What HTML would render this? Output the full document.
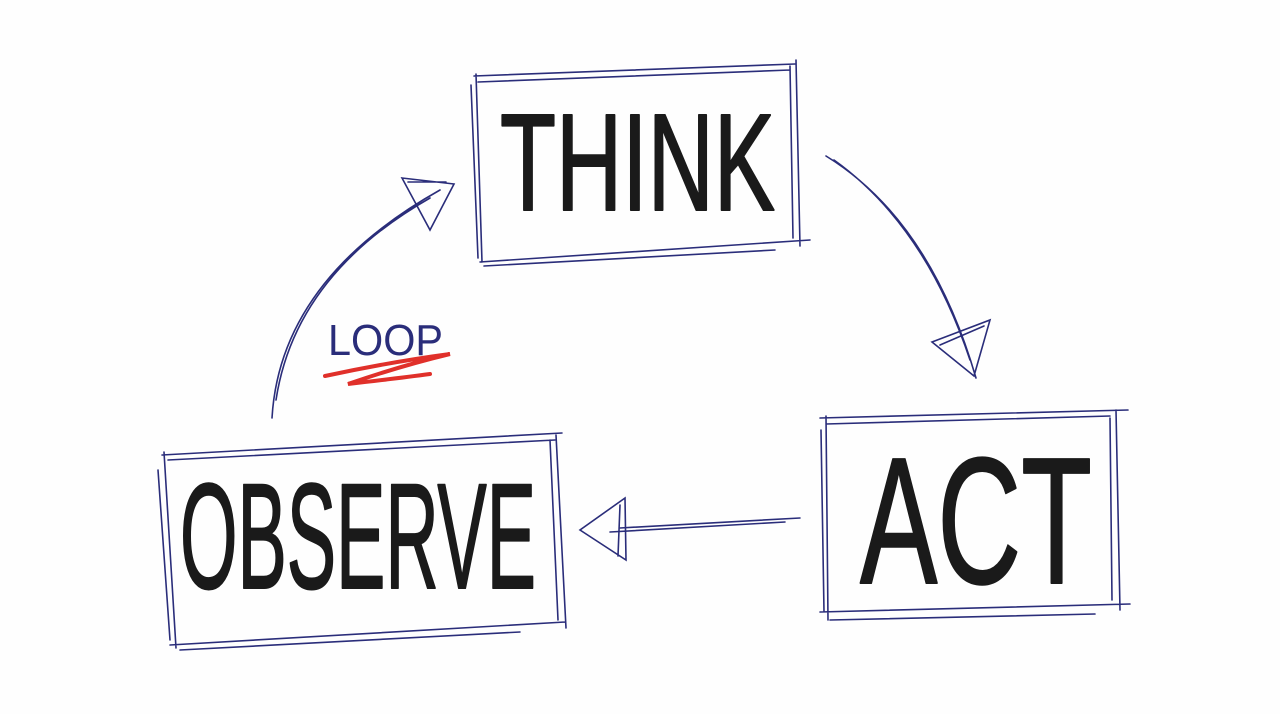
<!DOCTYPE html>
<html><head><meta charset="utf-8"><style>
html,body{margin:0;padding:0;background:#fff;width:1280px;height:714px;overflow:hidden}
svg{display:block}
</style></head><body>
<svg width="1280" height="714" viewBox="0 0 1280 714" xmlns="http://www.w3.org/2000/svg">
<rect width="1280" height="714" fill="#fefefe"/>
<g fill="none" stroke="#2a2d7a" stroke-width="1.6" stroke-linecap="round">
<path d="M474 76 L795 64 M478 82 L790 70 M476 74 L482 262 M471 85 L478 258 M480 262 L810 240 M484 266 L775 250 M796 60 L800 246 M790 66 L793 238"/>
<path d="M820 418 L1128 410 M826 424 L1110 416 M826 416 L828 620 M821 430 L824 612 M820 612 L1130 604 M830 620 L1095 614 M1116 410 L1120 610 M1110 418 L1112 600"/>
<path d="M162 455 L562 433 M168 460 L555 440 M164 452 L176 648 M158 470 L170 640 M170 645 L565 622 M180 650 L520 632 M556 435 L566 628 M550 440 L558 620"/>
<path d="M826 156 Q930 220 976 378 M834 160 Q925 225 970 360"/>
<path d="M932 342 L990 320 L974 376 Z M940 345 L984 326"/>
<path d="M800 518 L620 528 M785 522 L610 532"/>
<path d="M625 498 L580 530 L626 560 Z M620 505 L618 556"/>
<path d="M272 418 Q280 280 440 190 M276 400 Q295 275 430 198"/>
<path d="M402 178 L454 184 L430 230 Z M408 182 L446 182"/>
</g>
<g font-family="'Liberation Sans',sans-serif" fill="#1a1a1a" stroke="#1a1a1a" stroke-width="2" stroke-linejoin="round">
<text x="500" y="210" font-size="138" textLength="275" lengthAdjust="spacingAndGlyphs">THINK</text>
<text x="860" y="583" font-size="180" textLength="232" lengthAdjust="spacingAndGlyphs">ACT</text>
<text x="180" y="588" font-size="150" textLength="356" lengthAdjust="spacingAndGlyphs">OBSERVE</text>
</g>
<text x="328" y="355" font-family="'Liberation Sans',sans-serif" font-size="44" fill="#2a2d7a" textLength="115" lengthAdjust="spacingAndGlyphs">LOOP</text>
<path d="M325 376 Q390 362 450 354 Q400 366 348 384 Q400 378 430 374" fill="none" stroke="#e0302a" stroke-width="4" stroke-linecap="round"/>
</svg>
</body></html>
